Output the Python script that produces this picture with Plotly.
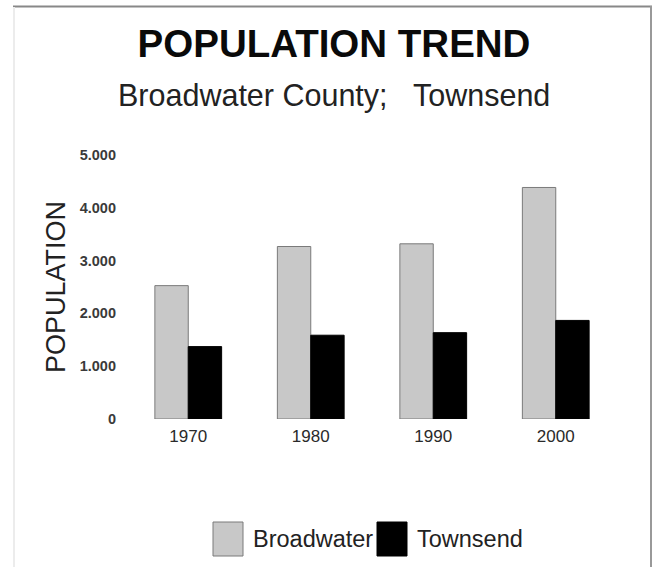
import plotly.graph_objects as go

# Census years and population counts
years = ["1970", "1980", "1990", "2000"]
broadwater = [2526, 3267, 3318, 4385]
townsend = [1371, 1587, 1635, 1867]
y_ticks = [0, 1000, 2000, 3000, 4000, 5000]

series_names = ["Broadwater", "Townsend"]
series_colors = ["#c8c8c8", "#000000"]
series_edges = ["#7a7a7a", "#000000"]

W, H = 655, 567
L, R, T, B = 127, 38, 155, 148
PW, PH = W - L - R, H - T - B


def fx(px):
    """Pixel x -> paper x."""
    return (px - L) / PW


def fy(py):
    """Pixel y -> paper y."""
    return (H - B - py) / PH


fig = go.Figure()
for name, vals, col, edge in zip(series_names, [broadwater, townsend], series_colors, series_edges):
    fig.add_trace(go.Bar(
        x=years, y=vals, name=name,
        marker=dict(color=col, line=dict(color=edge, width=1)),
        showlegend=False,
    ))

text_font = "Liberation Sans, Arial, sans-serif"
narrow_font = "Liberation Sans Narrow, Arial Narrow, Liberation Sans, Arial, sans-serif"

fig.update_layout(
    width=W, height=H,
    margin=dict(l=L, r=R, t=T, b=B, pad=0),
    paper_bgcolor="white", plot_bgcolor="white",
    barmode="group", bargap=0.455, bargroupgap=0,
    separators=",.",
    title=dict(
        text="POPULATION TREND",
        x=334 / W, xanchor="center", xref="container",
        y=1 - 44 / H, yanchor="middle", yref="container",
        font=dict(family=text_font, size=38.5, color="#0a0a0a", weight="bold"),
    ),
    xaxis=dict(
        type="category", range=[-0.5, 3.5],
        showline=False, showgrid=False, zeroline=False,
        ticks="", ticklabelstandoff=5,
        tickfont=dict(family=text_font, size=17, color="#2a2a2a"),
    ),
    yaxis=dict(
        range=[0, 5000], tickvals=y_ticks, tickformat=",d",
        showline=False, showgrid=False, zeroline=False,
        ticks="", ticklabelstandoff=10,
        tickfont=dict(family=narrow_font, size=14.5, color="#3a3a3a", weight="bold"),
    ),
)

annotations = [
    dict(text="Broadwater County;\u00a0\u00a0\u00a0Townsend", x=fx(334), y=fy(95),
         xanchor="center", yanchor="middle",
         font=dict(family=text_font, size=30.5, color="#222222")),
    dict(text="POPULATION", x=fx(56), y=fy(287), textangle=-90,
         xanchor="center", yanchor="middle",
         font=dict(family=text_font, size=27, color="#222222")),
]

# Legend swatches and labels
legend_x = [(213, 243, 251), (377, 407, 415)]
shapes = []
for (x0, x1, tx), name, col, edge in zip(legend_x, series_names, series_colors, series_edges):
    shapes.append(dict(type="rect", xref="paper", yref="paper",
                       x0=fx(x0), x1=fx(x1), y0=fy(556), y1=fy(522),
                       fillcolor=col, line=dict(color=edge, width=1)))
    annotations.append(dict(text=name, x=fx(tx), y=fy(539), xanchor="left", yanchor="middle",
                            font=dict(family=text_font, size=23.5, color="#222222")))

# Outer frame
shapes.append(dict(type="line", xref="paper", yref="paper",
                   x0=fx(13), x1=fx(652), y0=fy(6.5), y1=fy(6.5),
                   line=dict(color="#888888", width=2)))
shapes.append(dict(type="line", xref="paper", yref="paper",
                   x0=fx(651), x1=fx(651), y0=fy(6), y1=fy(H),
                   line=dict(color="#999999", width=2)))
shapes.append(dict(type="line", xref="paper", yref="paper",
                   x0=fx(14), x1=fx(14), y0=fy(7), y1=fy(H),
                   line=dict(color="#ececec", width=2)))

for a in annotations:
    a.setdefault("xref", "paper")
    a.setdefault("yref", "paper")
    a.setdefault("showarrow", False)

fig.update_layout(annotations=annotations, shapes=shapes)
fig.write_html("out.html")
